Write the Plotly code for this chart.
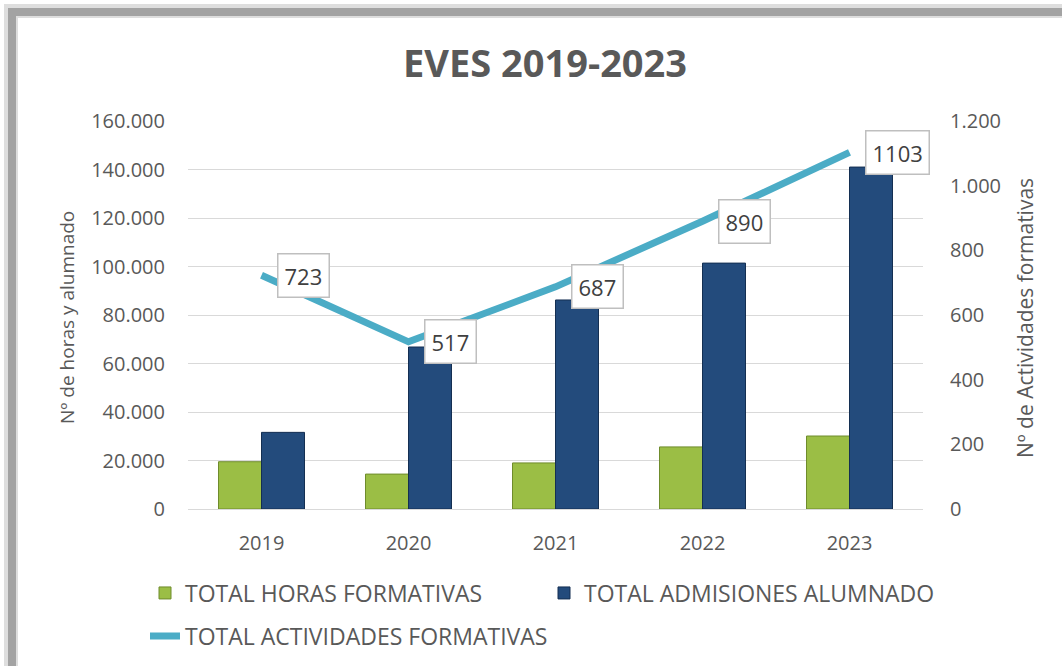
import plotly.graph_objects as go

years = ["2019", "2020", "2021", "2022", "2023"]
horas = [19500, 14400, 19000, 25600, 30100]
admisiones = [31600, 66800, 86200, 101400, 141000]
actividades = [723, 517, 687, 890, 1103]

W, H = 1062, 666
L, R, T, B = 188, 139, 121, 157
PW, PH = W - L - R, H - T - B

def px(x):
    return (x - L) / PW

def py(y):
    return (H - B - y) / PH

FONT = "Open Sans"
GREY = "#595959"

fig = go.Figure()
fig.add_trace(go.Bar(
    x=years, y=horas, name="TOTAL HORAS FORMATIVAS",
    marker=dict(color="#9BBE45", line=dict(color="#6F8C2C", width=1)),
    legend="legend",
))
fig.add_trace(go.Bar(
    x=years, y=admisiones, name="TOTAL ADMISIONES ALUMNADO",
    marker=dict(color="#234B7C", line=dict(color="#142F52", width=1)),
    legend="legend",
))
fig.add_trace(go.Scatter(
    x=years, y=actividades, name="TOTAL ACTIVIDADES FORMATIVAS",
    mode="lines", yaxis="y2",
    line=dict(color="#4BACC6", width=7),
    legend="legend2",
))

annotations = []
for i, v in enumerate(actividades):
    annotations.append(dict(
        x=i, y=v, xref="x", yref="y2", text=str(v), showarrow=False,
        xanchor="left", xshift=15, yanchor="middle",
        bgcolor="white", bordercolor="#BFBFBF", borderwidth=1.5, borderpad=6,
        font=dict(family=FONT, size=22, color="#404040"),
    ))
annotations.append(dict(
    x=px(67), y=py(318), xref="paper", yref="paper", text="Nº de horas y alumnado",
    textangle=-90, showarrow=False, xanchor="center", yanchor="middle",
    font=dict(family=FONT, size=19, color=GREY),
))
annotations.append(dict(
    x=px(1025), y=py(318), xref="paper", yref="paper", text="Nº de Actividades formativas",
    textangle=-90, showarrow=False, xanchor="center", yanchor="middle",
    font=dict(family=FONT, size=21, color=GREY),
))

shapes = [
    dict(type="rect", xref="paper", yref="paper",
         x0=px(11), y0=py(H + 60), x1=px(W + 60), y1=py(11),
         line=dict(color="rgba(160,160,160,0.35)", width=14), layer="above"),
    dict(type="rect", xref="paper", yref="paper",
         x0=px(12), y0=py(H + 60), x1=px(W + 60), y1=py(12),
         line=dict(color="#A3A3A3", width=8), layer="above"),
]

fig.update_layout(
    width=W, height=H,
    margin=dict(l=L, r=R, t=T, b=B, autoexpand=False),
    paper_bgcolor="white", plot_bgcolor="white",
    separators=",.",
    font=dict(family=FONT, color=GREY),
    title=dict(text="<b>EVES 2019-2023</b>", xref="container", x=545 / W, xanchor="center",
               y=1 - 64 / H, yanchor="middle",
               font=dict(family=FONT, size=38, color=GREY)),
    barmode="group", bargap=0.415, bargroupgap=0,
    xaxis=dict(type="category", range=[-0.5, len(years) - 0.5], showgrid=False, showline=True,
               linecolor="#D9D9D9", linewidth=1,
               ticks="outside", ticklen=16, tickcolor="rgba(0,0,0,0)",
               tickfont=dict(family=FONT, size=20, color=GREY)),
    yaxis=dict(range=[0, 160000], dtick=20000, tickformat=",d",
               showgrid=True, gridcolor="#D9D9D9", gridwidth=1,
               zeroline=False, showline=False,
               ticks="outside", ticklen=18, tickcolor="rgba(0,0,0,0)",
               tickfont=dict(family=FONT, size=20, color=GREY)),
    yaxis2=dict(range=[0, 1200], dtick=200, tickformat=",d", overlaying="y",
                side="right", showgrid=False, zeroline=False, showline=False,
                ticks="outside", ticklen=22, tickcolor="rgba(0,0,0,0)",
                tickfont=dict(family=FONT, size=20, color=GREY)),
    legend=dict(orientation="h", x=px(145), y=py(593), xanchor="left", yanchor="middle",
                entrywidth=354, entrywidthmode="pixels",
                font=dict(family=FONT, size=23, color=GREY), bgcolor="rgba(0,0,0,0)"),
    legend2=dict(orientation="h", x=px(145), y=py(636), xanchor="left", yanchor="middle",
                 font=dict(family=FONT, size=23, color=GREY), bgcolor="rgba(0,0,0,0)"),
    annotations=annotations,
    shapes=shapes,
    showlegend=True,
)

fig.write_html("out.html", config={"displayModeBar": False},
               post_script="document.body.style.margin='0';document.body.style.overflow='hidden';")
